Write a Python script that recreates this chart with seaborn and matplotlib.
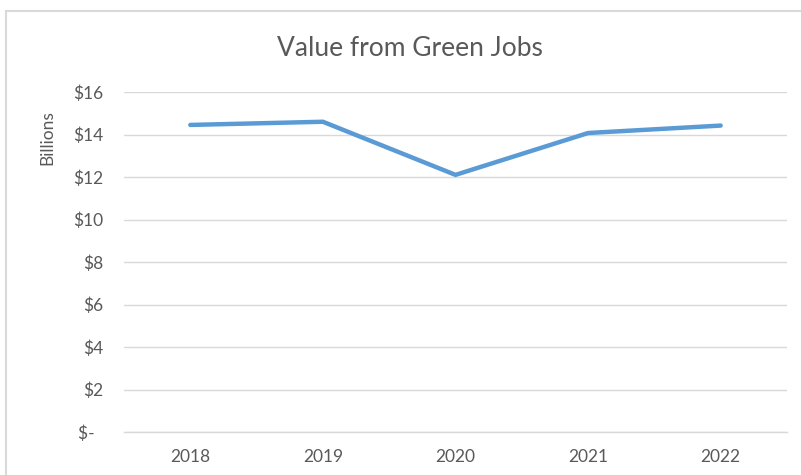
import pandas as pd
import seaborn as sns
import matplotlib.pyplot as plt
from matplotlib.lines import Line2D

# Data (billions of dollars)
years = ["2018", "2019", "2020", "2021", "2022"]
values = [14.45, 14.6, 12.1, 14.07, 14.42]
y_ticks = [0, 2, 4, 6, 8, 10, 12, 14, 16]
y_tick_labels = ["$-  ", "$2", "$4", "$6", "$8", "$10", "$12", "$14", "$16"]

df = pd.DataFrame({"year": years, "value": values})

sns.set_style("white")
plt.rcParams['font.family'] = ['Lato', 'DejaVu Sans']

grey = "#595959"
fig = plt.figure(figsize=(8.01, 4.75), dpi=100)
ax = fig.add_axes([124 / 801, 1 - 432 / 475, (787 - 124) / 801, (432 - 92) / 475])

# chart area border (Excel style), left and top edges only are in view
bx, by = 5.5 / 801, 1 - 10.5 / 475
fig.add_artist(Line2D([bx, bx], [0, by], transform=fig.transFigure,
                      color="#d9d9d9", linewidth=1.5))
fig.add_artist(Line2D([bx, 1], [by, by], transform=fig.transFigure,
                      color="#d9d9d9", linewidth=1.5))

sns.lineplot(data=df, x="year", y="value", ax=ax, color="#5b9bd5",
             linewidth=3.2, solid_capstyle="round", solid_joinstyle="miter",
             sort=False)

ax.set_xlim(-0.5, 4.5)
ax.set_ylim(0, 16)
ax.set_yticks(y_ticks)
ax.set_yticklabels(y_tick_labels)
ax.yaxis.grid(True, color="#d9d9d9", linewidth=1)
ax.set_axisbelow(True)
for s in ["top", "right", "left"]:
    ax.spines[s].set_visible(False)
ax.spines["bottom"].set_color("#d9d9d9")
ax.spines["bottom"].set_linewidth(1)
ax.tick_params(axis="y", length=0, pad=15, labelsize=12.5, labelcolor=grey)
ax.tick_params(axis="x", length=0, pad=12, labelsize=12.5, labelcolor=grey)
ax.set_xlabel("")
ax.set_ylabel("")

fig.text(410 / 801, 1 - 48 / 475, "Value from Green Jobs", ha="center",
         va="center", fontsize=19, color=grey)
fig.text(47 / 801, 1 - 138 / 475, "Billions", ha="center", va="center",
         rotation=90, fontsize=12.5, color=grey)

fig.savefig("out.png", dpi=100)
